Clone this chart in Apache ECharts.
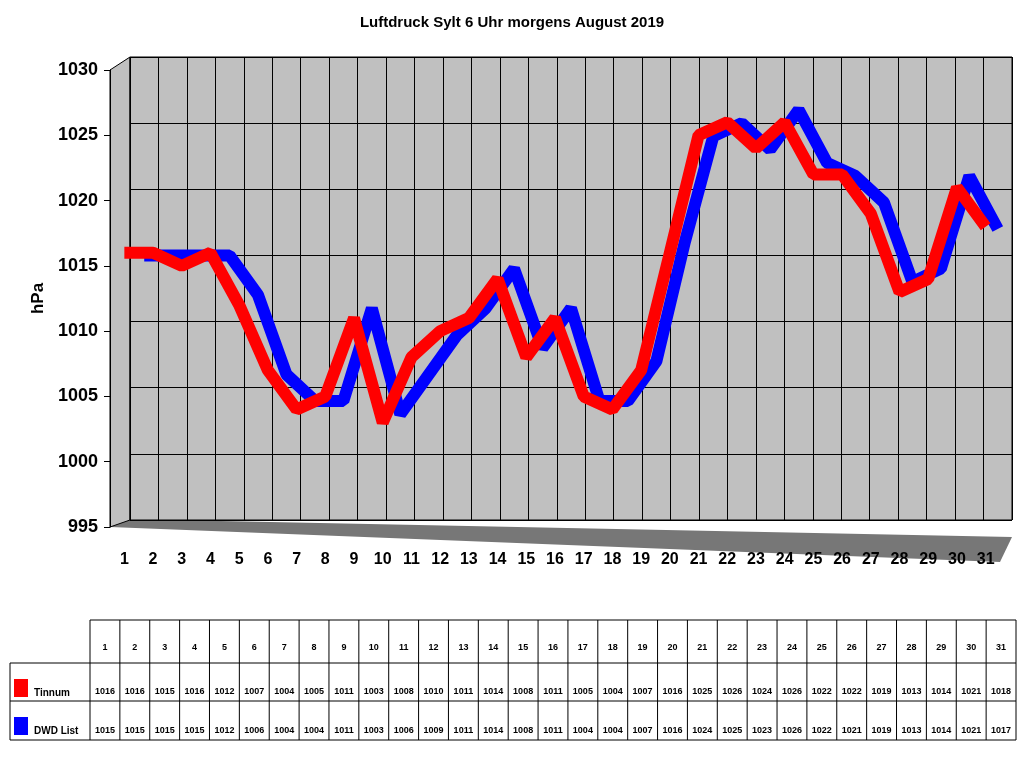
<!DOCTYPE html>
<html><head><meta charset="utf-8">
<script src="https://cdn.jsdelivr.net/npm/echarts@6/dist/echarts.min.js"></script>
<style>html,body{margin:0;background:#fff}#c{width:1024px;height:768px}</style>
</head><body><div id="c"></div>
<script>
const days = Array.from({length: 31}, (_, i) => String(i + 1))
const tinnum = [1016,1016,1015,1016,1012,1007,1004,1005,1011,1003,1008,1010,1011,1014,1008,1011,1005,1004,1007,1016,1025,1026,1024,1026,1022,1022,1019,1013,1014,1021,1018]
const dwd = [1015,1015,1015,1015,1012,1006,1004,1004,1011,1003,1006,1009,1011,1014,1008,1011,1004,1004,1007,1016,1024,1025,1023,1026,1022,1021,1019,1013,1014,1021,1017]
const names = ['Tinnum', 'DWD List']
const colors = ['#ff0000', '#0000ff']

// data table under the chart
const tab_l = 90, tab_r = 1016, cw = (tab_r - tab_l) / 31
const rows_y = [620, 663, 701, 740]
const graphic = []
const line = (x1, y1, x2, y2) => graphic.push({type: 'line', shape: {x1, y1, x2, y2}, style: {stroke: '#000', lineWidth: 1}})
line(tab_l, rows_y[0], tab_r, rows_y[0])
line(10, rows_y[1], tab_r, rows_y[1])
line(10, rows_y[2], tab_r, rows_y[2])
line(10, rows_y[3], tab_r, rows_y[3])
line(10, rows_y[1], 10, rows_y[3])
for (let i = 0; i <= 31; i++) line(tab_l + i * cw, rows_y[0], tab_l + i * cw, rows_y[3])
const cell_text = (x, y, t) => graphic.push({type: 'text', x, y, style: {text: t, font: 'bold 9px Arial', fill: '#000', align: 'center', verticalAlign: 'middle'}})
days.forEach((d, i) => {
    const cx = tab_l + (i + 0.5) * cw
    cell_text(cx, 648, d)
    cell_text(cx, 692, String(tinnum[i]))
    cell_text(cx, 731, String(dwd[i]))
})
;[tinnum, dwd].forEach((_, k) => {
    const y = rows_y[k + 1]
    graphic.push({type: 'rect', shape: {x: 14, y: y + 16, width: 14, height: 18}, style: {fill: colors[k]}})
    graphic.push({type: 'text', x: 34, y: y + 30, style: {text: names[k], font: 'bold 10px Arial', fill: '#000', verticalAlign: 'middle'}})
})
// floor of the 3d box
graphic.push({type: 'polygon', z: -1, shape: {points: [[110, 527], [122, 519], [1012, 537], [1000, 562]]}, style: {fill: '#777'}})
// side wall
graphic.push({type: 'polygon', z: -1, shape: {points: [[110, 70], [130, 57], [130, 520], [110, 527]]}, style: {fill: '#c0c0c0', stroke: '#000', lineWidth: 1}})

const chart = echarts.init(document.getElementById('c'))
chart.setOption({
    animation: false,
    title: {text: 'Luftdruck Sylt 6 Uhr morgens August 2019', left: 'center', top: 10, textStyle: {fontFamily: 'Arial', fontSize: 15, fontWeight: 'bold', color: '#000'}},
    graphic,
    grid: [
        {left: 130, right: 12, top: 57, bottom: 248, show: true, backgroundColor: '#c0c0c0', borderColor: '#000'},
        {left: 110, right: 24, top: 70, bottom: 241},
    ],
    xAxis: [
        {gridIndex: 0, type: 'category', data: days, boundaryGap: true, axisLabel: {show: false}, axisTick: {show: false}, axisLine: {show: false},
            splitLine: {show: true, lineStyle: {color: '#000', width: 1}}},
        {gridIndex: 1, type: 'category', data: days, boundaryGap: true, axisLine: {show: false}, axisTick: {show: false},
            axisLabel: {fontFamily: 'Arial', fontSize: 16, fontWeight: 'bold', color: '#000', margin: 25}},
    ],
    yAxis: [
        {gridIndex: 0, min: 995, max: 1030, interval: 5, axisLabel: {show: false}, axisLine: {show: false},
            splitLine: {lineStyle: {color: '#000', width: 1}}},
        {gridIndex: 1, min: 995, max: 1030, interval: 5, name: 'hPa', nameLocation: 'middle', nameGap: 60,
            nameTextStyle: {fontFamily: 'Arial', fontSize: 17, fontWeight: 'bold', color: '#000'},
            axisLine: {show: true, lineStyle: {color: '#000'}}, axisTick: {show: true, length: 6, inside: false},
            splitLine: {show: false},
            axisLabel: {fontFamily: 'Arial', fontSize: 18, fontWeight: 'bold', color: '#000', margin: 12, formatter: v => String(v)}},
    ],
    series: [
        {name: names[1], type: 'line', xAxisIndex: 0, yAxisIndex: 0, data: dwd, showSymbol: false,
            lineStyle: {color: colors[1], width: 12}},
        {name: names[0], type: 'line', xAxisIndex: 1, yAxisIndex: 1, data: tinnum, showSymbol: false,
            lineStyle: {color: colors[0], width: 12}},
    ],
})
</script></body></html>
